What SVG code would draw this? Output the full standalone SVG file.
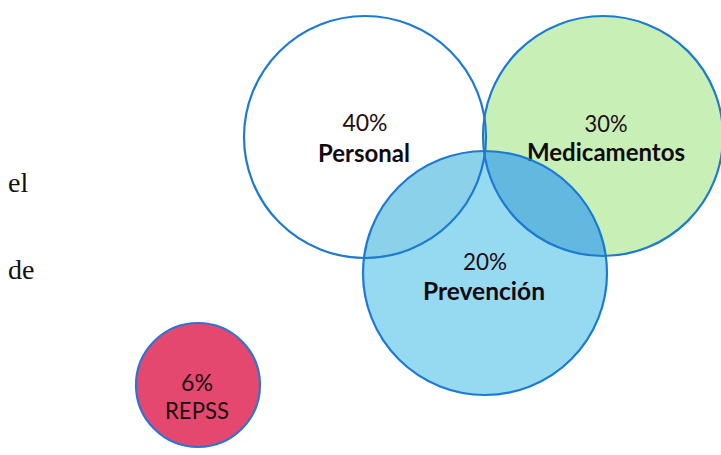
<svg xmlns="http://www.w3.org/2000/svg" width="721" height="455" viewBox="0 0 721 455">
  <style>
    .ring { fill: none; stroke: #1c7ad2; stroke-width: 2.2; }
    .num { font-family: Lato, "Liberation Sans", sans-serif; font-size: 24px; fill: #1e0e14; text-anchor: middle; }
    .name { font-family: Lato, "Liberation Sans", sans-serif; font-size: 24px; font-weight: bold; fill: #120a10; text-anchor: middle; }
    .tag { font-family: Lato, "Liberation Sans", sans-serif; font-size: 23px; fill: #1a0a10; text-anchor: middle; }
    .body { font-family: "Liberation Serif", serif; font-size: 28px; fill: #111; }
  </style>
  <defs>
    <clipPath id="clipPersonal"><circle cx="365" cy="137" r="121"/></clipPath>
    <clipPath id="clipMedicamentos"><circle cx="603" cy="136" r="120"/></clipPath>
  </defs>

  <rect width="721" height="455" fill="#ffffff"/>

  <!-- running text beside the figure -->
  <text class="body" x="8" y="192">el</text>
  <text class="body" x="8" y="279">de</text>

  <!-- fills -->
  <g id="fills">
    <circle cx="365" cy="137" r="121" fill="#ffffff"/>
    <circle cx="603" cy="136" r="120" fill="#c8f0b6"/>
    <circle cx="485" cy="273" r="122" fill="#96daf1"/>
    <circle cx="485" cy="273" r="122" fill="#8cd1ea" clip-path="url(#clipPersonal)"/>
    <circle cx="485" cy="273" r="122" fill="#62b8de" clip-path="url(#clipMedicamentos)"/>
  </g>

  <g id="personal">
    <circle class="ring" cx="365" cy="137" r="121"/>
    <text class="num" x="365" y="131" textLength="45" lengthAdjust="spacingAndGlyphs">40%</text>
    <text class="name" x="364" y="162" textLength="92" lengthAdjust="spacingAndGlyphs">Personal</text>
  </g>

  <g id="medicamentos">
    <circle class="ring" cx="603" cy="136" r="120"/>
    <text class="num" x="606" y="132" textLength="43" lengthAdjust="spacingAndGlyphs">30%</text>
    <text class="name" x="606" y="161" textLength="158" lengthAdjust="spacingAndGlyphs">Medicamentos</text>
  </g>

  <g id="prevencion">
    <circle class="ring" cx="485" cy="273" r="122"/>
    <text class="num" x="485" y="270" textLength="44" lengthAdjust="spacingAndGlyphs">20%</text>
    <text class="name" x="484" y="300" textLength="122" lengthAdjust="spacingAndGlyphs">Prevención</text>
  </g>

  <g id="repss">
    <circle cx="198" cy="385" r="62" fill="#e5486f" stroke="#2b74d4" stroke-width="2.2"/>
    <text class="tag" x="197" y="391" textLength="32" lengthAdjust="spacingAndGlyphs">6%</text>
    <text class="tag" x="197" y="419" textLength="64" lengthAdjust="spacingAndGlyphs">REPSS</text>
  </g>
</svg>
